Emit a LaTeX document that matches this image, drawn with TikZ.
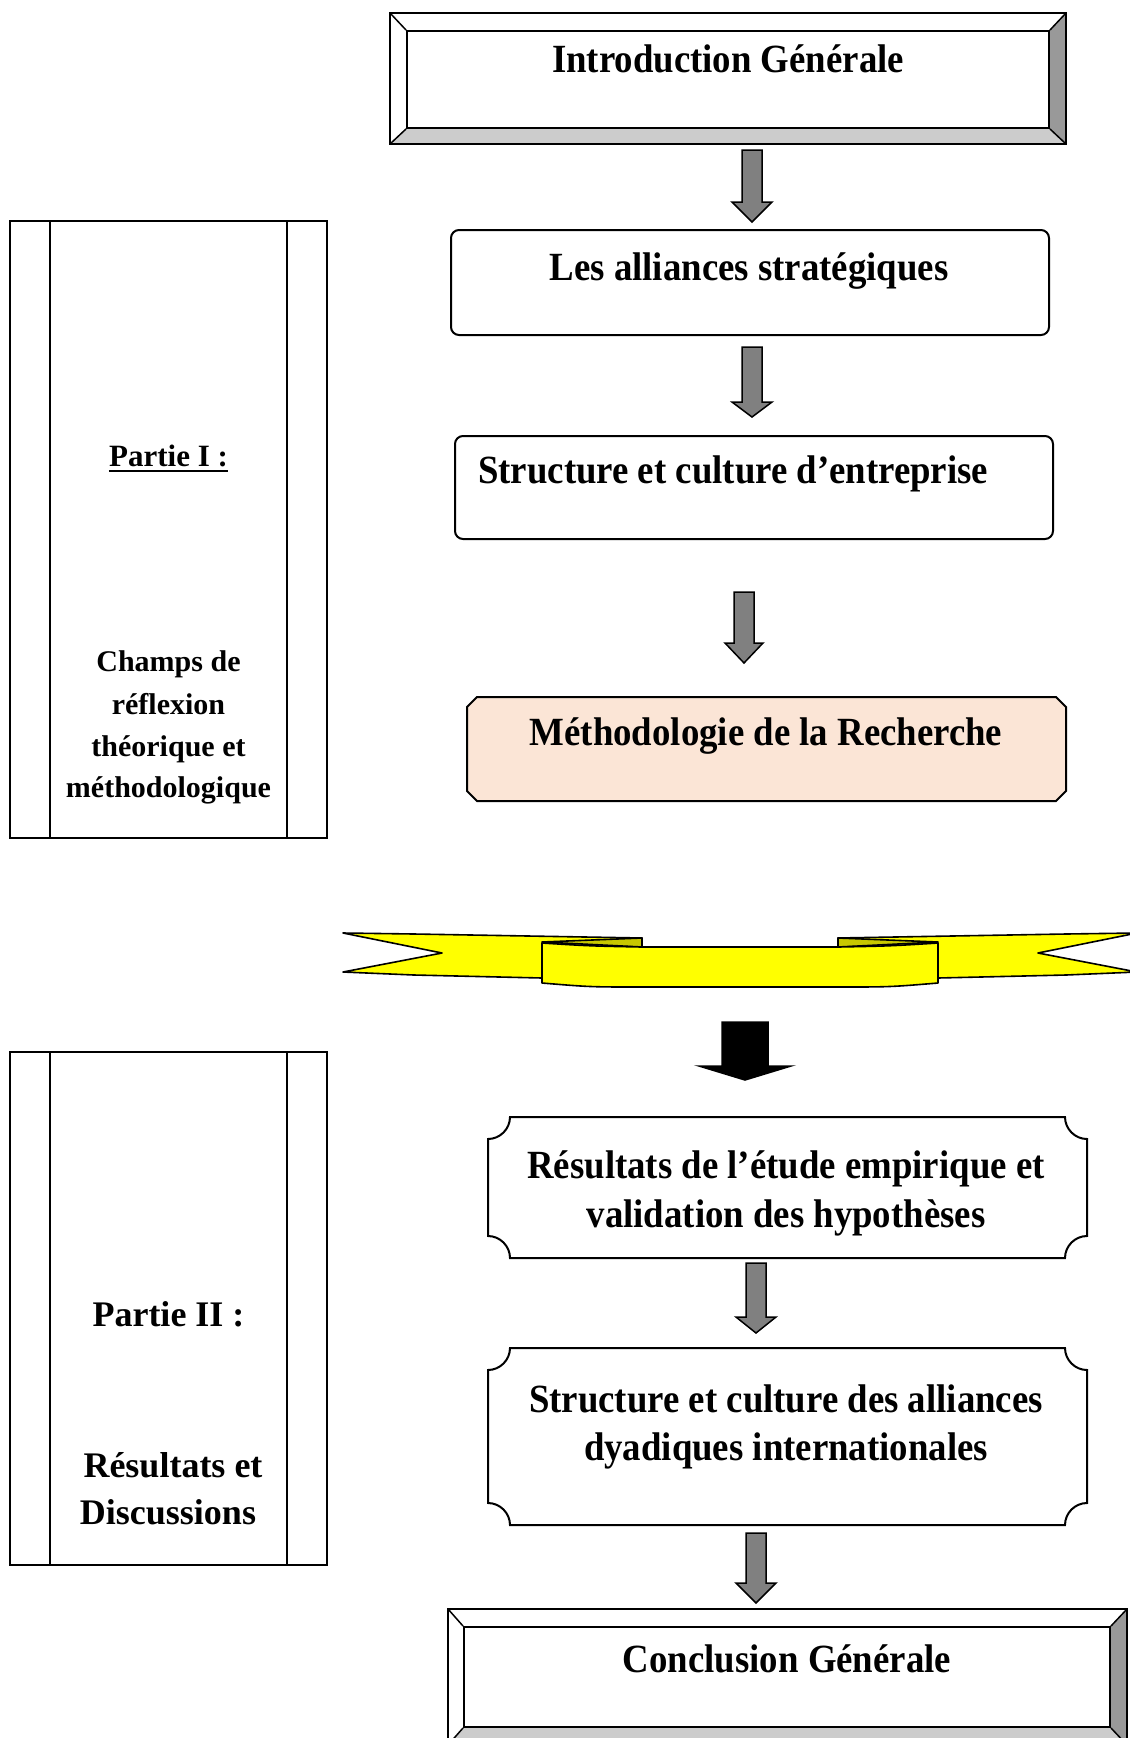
\documentclass[tikz,border=0pt]{standalone}
\usepackage{fontspec}
\setmainfont{Liberation Serif}
\newfontfamily\cfont{Liberation Serif}[FakeStretch=0.92]
\definecolor{peach}{HTML}{FBE5D6}
\definecolor{bevR}{HTML}{999999}
\definecolor{bevB}{HTML}{CCCCCC}
\definecolor{arrgray}{HTML}{808080}
\definecolor{ribyel}{HTML}{FFFF00}
\definecolor{ribdark}{HTML}{C8C800}
\tikzset{
  outl/.style={draw=black, line width=2pt, line join=miter},
  boxtext/.style={font=\cfont\bfseries\fontsize{40}{48}\selectfont, inner sep=0pt, anchor=base},
  sidetext/.style={font=\bfseries\fontsize{30}{36}\selectfont, inner sep=0pt, anchor=base},
  sidebig/.style={font=\bfseries\fontsize{36}{42}\selectfont, inner sep=0pt, anchor=base},
  arrowshape/.style={draw=black, line width=1.5pt, line join=miter},
  ribbon/.style={draw=black, line width=1.6pt, line join=round},
}
\newcommand\blockarrow[7]{% x, half shaft, half head, shaft top, head y, tip y, fill
  \filldraw[arrowshape, fill=#7] (#1-#2,#4) -- (#1+#2,#4) -- (#1+#2,#5) -- (#1+#3,#5)
    -- (#1,#6) -- (#1-#3,#5) -- (#1-#2,#5) -- cycle;}
\begin{document}
\begin{tikzpicture}[x=1pt,y=-1pt]
\useasboundingbox[fill=white] (0,0) rectangle (1130,1738);

% ---------- Introduction (bevel box)
\fill[white] (390,13) rectangle (1066,144);
\fill[bevR] (1066,13) -- (1066,144) -- (1049,128) -- (1049,31) -- cycle;
\fill[bevB] (390,144) -- (1066,144) -- (1049,128) -- (407,128) -- cycle;
\draw[outl] (390,13) rectangle (1066,144);
\node[outl, minimum width=642pt, minimum height=97pt, inner sep=0pt] (intro) at (728,79.5) {};
\draw[line width=1.5pt] (390,13) -- (intro.north west) (1066,13) -- (intro.north east)
  (390,144) -- (intro.south west) (1066,144) -- (intro.south east);
\node[boxtext] (introT) at (728,72) {Introduction Générale};

\blockarrow{752}{10}{20}{150}{202}{222}{arrgray}

% ---------- Les alliances strategiques
\node[outl, rounded corners=8pt, minimum width=598pt, minimum height=105pt, inner sep=0pt] (alli) at (750,282.5) {};
\node[boxtext] (alliT) at (749,280) {Les alliances stratégiques};

\blockarrow{752}{10}{20}{347}{402}{417}{arrgray}

% ---------- Structure et culture d'entreprise
\node[outl, rounded corners=8pt, minimum width=598pt, minimum height=103pt, inner sep=0pt] (struc) at (754,487.5) {};
\node[boxtext, anchor=base west] (strucT) at (478,483) {Structure et culture d’entreprise};

\blockarrow{744}{10}{19}{592}{643}{663}{arrgray}

% ---------- Methodologie
\filldraw[outl, fill=peach] (477,697) -- (1056,697) -- (1066,707) -- (1066,791) -- (1056,801)
  -- (477,801) -- (467,791) -- (467,707) -- cycle;
\coordinate (metho) at (766,749);
\node[boxtext] (methoT) at (766,745) {Méthodologie de la Recherche};

% ---------- Ribbon
\filldraw[ribbon, fill=ribyel] (343,933) -- (414,934) -- (642,938) -- (642,950) -- (542,956)
  -- (542,978) -- (414,975) -- (343,972) -- (442,953) -- cycle;
\filldraw[ribbon, fill=ribyel] (1137,933) -- (1066,934) -- (838,938) -- (838,950) -- (938,956)
  -- (938,978) -- (1066,975) -- (1137,972) -- (1038,953) -- cycle;
\filldraw[ribbon, fill=ribdark] (542,942) -- (642,938) -- (642,947) -- cycle;
\filldraw[ribbon, fill=ribdark] (938,942) -- (838,938) -- (838,947) -- cycle;
\filldraw[ribbon, fill=ribyel] (542,943) .. controls (590,946) .. (642,947) -- (838,947)
  .. controls (890,946) .. (938,943) -- (938,983) .. controls (890,987) .. (838,987)
  -- (642,987) .. controls (590,987) .. (542,983) -- cycle;

\blockarrow{745}{23}{46}{1022}{1066}{1080}{black}

% ---------- Resultats (plaque)
\draw[outl] (510,1117) -- (1065,1117) .. controls (1065,1129) and (1075,1139) .. (1087,1139)
  -- (1087,1236) .. controls (1075,1236) and (1065,1246) .. (1065,1258) -- (510,1258)
  .. controls (510,1246) and (500,1236) .. (488,1236) -- (488,1139)
  .. controls (500,1139) and (510,1129) .. (510,1117) -- cycle;
\node[boxtext] (res1) at (786,1178) {Résultats de l’étude empirique et};
\node[boxtext] (res2) at (786,1227) {validation des hypothèses};

\blockarrow{756}{10}{20}{1263}{1317}{1333}{arrgray}

% ---------- Structure et culture des alliances (plaque)
\draw[outl] (510,1348) -- (1065,1348) .. controls (1065,1360) and (1075,1370) .. (1087,1370)
  -- (1087,1503) .. controls (1075,1503) and (1065,1513) .. (1065,1525) -- (510,1525)
  .. controls (510,1513) and (500,1503) .. (488,1503) -- (488,1370)
  .. controls (500,1370) and (510,1360) .. (510,1348) -- cycle;
\node[boxtext] (sca1) at (786,1412) {Structure et culture des alliances};
\node[boxtext] (sca2) at (786,1460) {dyadiques internationales};

\blockarrow{756}{10}{20}{1533}{1583}{1603}{arrgray}

% ---------- Conclusion (bevel box)
\fill[white] (448,1609) rectangle (1127,1745);
\fill[bevR] (1127,1609) -- (1127,1745) -- (1110,1727) -- (1110,1627) -- cycle;
\fill[bevB] (448,1745) -- (1127,1745) -- (1110,1727) -- (464,1727) -- cycle;
\draw[outl] (448,1609) rectangle (1127,1745);
\node[outl, minimum width=646pt, minimum height=100pt, inner sep=0pt] (concl) at (787,1677) {};
\draw[line width=1.5pt] (448,1609) -- (concl.north west) (1127,1609) -- (concl.north east)
  (448,1745) -- (concl.south west) (1127,1745) -- (concl.south east);
\node[boxtext] (conclT) at (787,1672) {Conclusion Générale};

% ---------- Partie I
\node[outl, minimum width=317pt, minimum height=617pt, inner sep=0pt] (p1) at (168.5,529.5) {};
\draw[outl] (50,221) -- (50,838) (287,221) -- (287,838);
\node[sidetext, font=\bfseries\fontsize{31}{36}\selectfont] (p1a) at (168.5,466) {Partie I :};
\draw[line width=1.8pt] ([yshift=-5pt]p1a.base west) -- ([yshift=-5pt]p1a.base east);
\node[sidetext] (p1b) at (168.5,671) {Champs de};
\node[sidetext] (p1c) at (168.5,714) {réflexion};
\node[sidetext] (p1d) at (168.5,756) {théorique et};
\node[sidetext] (p1e) at (168.5,797) {méthodologique};

% ---------- Partie II
\node[outl, minimum width=317pt, minimum height=513pt, inner sep=0pt] (p2) at (168.5,1308.5) {};
\draw[outl] (50,1052) -- (50,1565) (287,1052) -- (287,1565);
\node[sidebig] (p2a) at (168.5,1326) {Partie II :};
\node[sidebig] (p2b) at (173,1477) {Résultats et};
\node[sidebig] (p2c) at (168,1524) {Discussions};
\end{tikzpicture}
\end{document}
